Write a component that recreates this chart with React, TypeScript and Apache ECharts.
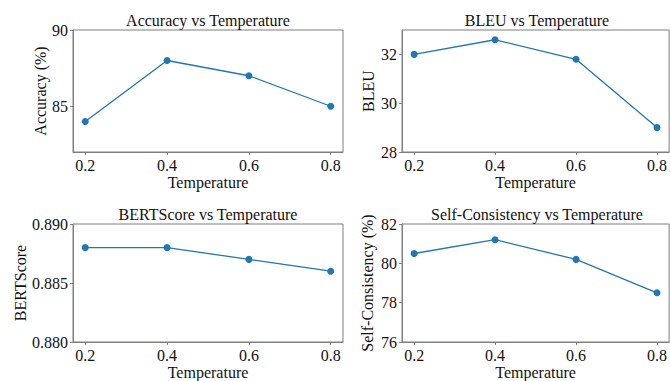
import React, { useEffect, useRef } from "react";
import * as echarts from "echarts";

const temperatures = [0.2, 0.4, 0.6, 0.8];
const accuracy = [84, 88, 87, 85];
const bleu = [32.0, 32.6, 31.8, 29.0];
const bertScore = [0.888, 0.888, 0.887, 0.886];
const selfConsistency = [80.5, 81.2, 80.2, 78.5];

const xTicks = [0.2, 0.4, 0.6, 0.8];
const accuracyTicks = [85, 90];
const bleuTicks = [28, 30, 32];
const bertTicks = [0.88, 0.885, 0.89];
const scTicks = [76, 78, 80, 82];

const titles = [
  "Accuracy vs Temperature",
  "BLEU vs Temperature",
  "BERTScore vs Temperature",
  "Self-Consistency vs Temperature",
];
const yNames = ["Accuracy (%)", "BLEU", "BERTScore", "Self-Consistency (%)"];

const FONT = "'Liberation Serif', 'Times New Roman', serif";
const SPINE = "#7f7f7f";
const TEXT = "#111";
const BLUE = "#1f77b4";

export default function App() {
  const ref = useRef<HTMLDivElement>(null);
  useEffect(() => {
    if (!ref.current) return;
    const chart = echarts.init(ref.current, null, { renderer: "svg" });

    const grids = [
      { left: 73, top: 30, width: 270, height: 122 },
      { left: 402, top: 30, width: 270, height: 122 },
      { left: 73, top: 224, width: 270, height: 121 },
      { left: 402, top: 224, width: 270, height: 121 },
    ];
    const seriesData = [accuracy, bleu, bertScore, selfConsistency];
    const yConf = [
      { min: 82, max: 90, ticks: accuracyTicks, fmt: (v: number) => String(v), gap: 25 },
      { min: 28, max: 33, ticks: bleuTicks, fmt: (v: number) => String(v), gap: 26 },
      { min: 0.88, max: 0.89, ticks: bertTicks, fmt: (v: number) => v.toFixed(3), gap: 43 },
      { min: 76, max: 82, ticks: scTicks, fmt: (v: number) => String(v), gap: 27 },
    ];
    const labelStyle = { fontFamily: FONT, fontSize: 16, color: TEXT, fontWeight: "normal" };

    const option: any = {
      animation: false,
      textStyle: { fontFamily: FONT },
      grid: grids.map((g) => ({
        ...g,
        show: true,
        borderColor: SPINE,
        borderWidth: 1,
        backgroundColor: "transparent",
        containLabel: false,
      })),
      xAxis: grids.map((_, i) => ({
        type: "value",
        gridIndex: i,
        min: 0.17,
        max: 0.83,
        name: "Temperature",
        nameLocation: "middle",
        nameGap: 22,
        nameTextStyle: { ...labelStyle },
        axisLine: { show: true, lineStyle: { color: SPINE, width: 1 } },
        axisTick: { show: true, length: 3, lineStyle: { color: SPINE }, customValues: xTicks },
        axisLabel: {
          ...labelStyle,
          customValues: xTicks,
          margin: 5,
          formatter: (v: number) => String(v),
        },
        splitLine: { show: false },
      })),
      yAxis: yConf.map((c, i) => ({
        type: "value",
        gridIndex: i,
        min: c.min,
        max: c.max,
        name: yNames[i],
        nameLocation: "middle",
        nameGap: c.gap,
        nameTextStyle: { ...labelStyle },
        axisLine: { show: true, lineStyle: { color: SPINE, width: 1 } },
        axisTick: { show: true, length: 3, lineStyle: { color: SPINE }, customValues: c.ticks },
        axisLabel: {
          ...labelStyle,
          customValues: c.ticks,
          margin: 5,
          formatter: c.fmt,
        },
        splitLine: { show: false },
      })),
      series: seriesData.map((d, i) => ({
        type: "line",
        xAxisIndex: i,
        yAxisIndex: i,
        data: d.map((v, j) => [temperatures[j], v]),
        symbol: "circle",
        symbolSize: 7,
        showSymbol: true,
        lineStyle: { color: BLUE, width: 1.3 },
        itemStyle: { color: BLUE },
      })),
      graphic: titles.map((t, i) => ({
        type: "text",
        x: grids[i].left + grids[i].width / 2,
        y: i < 2 ? 20 : 214,
        style: {
          text: t,
          fontFamily: FONT,
          fontSize: 16,
          fontWeight: "normal",
          fill: TEXT,
          textAlign: "center",
          textVerticalAlign: "middle",
        },
      })),
    };
    chart.setOption(option);
    return () => chart.dispose();
  }, []);
  return (
    <div
      ref={ref}
      style={{ position: "absolute", left: 0, top: 0, width: 670, height: 381, background: "#fff" }}
    />
  );
}
